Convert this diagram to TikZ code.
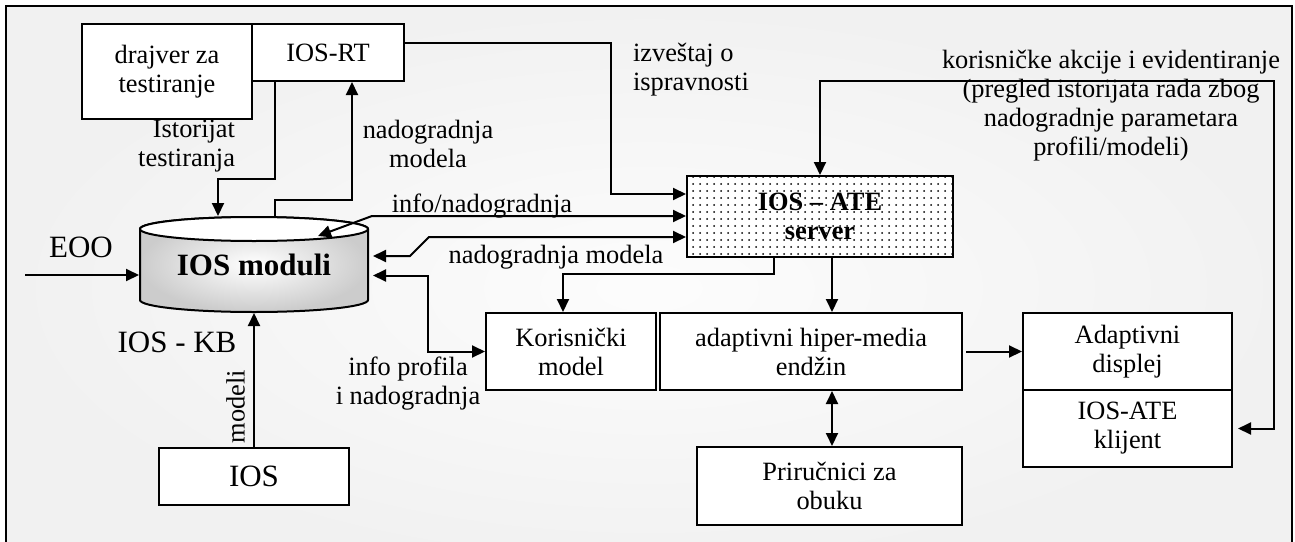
\documentclass[tikz,border=0pt]{standalone}
\usepackage{fontspec}
\setmainfont{Liberation Serif}
\usetikzlibrary{arrows.meta, calc, patterns.meta, positioning}

\tikzset{
  txt/.style={font=\fontsize{13.2}{14.5}\selectfont},
  bigtxt/.style={font=\fontsize{15.5}{18}\selectfont},
  box/.style={draw, fill=white, txt, align=center, inner sep=0pt},
  lbl/.style={txt, inner sep=0pt},
  >={Triangle[length=6.5pt,width=6pt]}
}

\begin{document}
\begin{tikzpicture}[x=0.5pt,y=-0.5pt,line width=1pt]
    \useasboundingbox (0,0) rectangle (1295,541);
    \clip (0,0) rectangle (1295,541);
    \shadedraw[line width=1.2pt, inner color=gray!2, outer color=gray!11] (6,6) rectangle (1292,570);

    % baza znanja
    \shadedraw[inner color=white, outer color=gray!40] (140,229) -- (140,300)
      arc[start angle=180, end angle=0, x radius=114, y radius=12] -- (368,229)
      arc[start angle=0, end angle=-180, x radius=114, y radius=12] -- cycle;
    \draw[fill=white] (254,229) ellipse[x radius=114, y radius=12];
    \node[minimum width=114pt, minimum height=47.5pt, inner sep=0pt,
      font=\fontsize{15.5}{18}\selectfont\bfseries] (kb) at (254,264.5) {IOS moduli};

    \node[box, minimum width=85pt, minimum height=47.5pt] (drajver) at (167,71.5) {drajver za\\testiranje};
    \node[box, minimum width=76pt, minimum height=28.5pt] (iosrt) at (328,52.5) {IOS-RT};
    \node[draw, preaction={fill=white}, pattern={Dots[distance=3.5pt,radius=.5pt]}, pattern color=black,
      align=center, inner sep=0pt, minimum width=133pt, minimum height=40.5pt,
      font=\fontsize{13.2}{14.5}\selectfont\bfseries] (server) at (820,216.5) {IOS – ATE\\server};
    \node[box, minimum width=85pt, minimum height=38.5pt] (korisnicki) at (571,351.5) {Korisnički\\model};
    \node[box, minimum width=151pt, minimum height=38.5pt] (engine) at (811,351.5) {adaptivni hiper-media\\endžin};
    \node[box, minimum width=132.5pt, minimum height=39pt] (prirucnici) at (829.5,486) {Priručnici za\\obuku};
    \node[box, minimum width=104.5pt, minimum height=38.5pt] (displej) at (1127.5,351.5) {Adaptivni\\displej};
    \node[box, minimum width=104.5pt, minimum height=38.5pt] (klijent) at (1127.5,428.5) {IOS-ATE\\klijent};
    \node[box, bigtxt, minimum width=95pt, minimum height=28.5pt] (ios) at (254,476.5) {IOS};

    \node[lbl, align=right, anchor=base east] (istorijat) at (236,166) {Istorijat\\testiranja};
    \node[lbl, align=center, anchor=base] (nadogrRT) at (428,167) {nadogradnja\\modela};
    \node[lbl, align=left, anchor=base west] (izvestaj) at (632,90) {izveštaj o\\ispravnosti};
    \node[lbl, align=center, anchor=base] (akcije) at (1111,155)
      {korisničke akcije i evidentiranje\\(pregled istorijata rada zbog\\nadogradnje parametara\\profili/modeli)};
    \node[lbl, anchor=base] (infonad) at (482,212) {info/nadogradnja};
    \node[lbl, anchor=base] (nadmod) at (556,263) {nadogradnja modela};
    \node[lbl, align=center, anchor=base] (infoprof) at (408,404) {info profila\\i nadogradnja};
    \node[bigtxt, inner sep=0pt, anchor=base] (eoolbl) at (81,257) {EOO};
    \node[bigtxt, inner sep=0pt, anchor=base] (kblbl) at (177,352) {IOS - KB};

    \draw[->] ($(iosrt.south)+(-53,0)$) |- ($(kb.north)+(-36,-37)$) -- ($(kb.north)+(-36,0)$);
    \draw[->] ($(kb.north)+(21,0)$) |- ($(iosrt.south)+(24,118)$) -- ($(iosrt.south)+(24,0)$);
    \draw[->] ($(iosrt.east)+(0,-9.5)$) -| ($(server.west)+(-75,-22.5)$) -- ($(server.west)+(0,-22.5)$);
    \draw[<->] ($(kb.north)+(64,20)$) -- ($(kb.north)+(118,0)$) -- (kb.north -| server.west);
    \draw[<->] ($(kb.east)+(4,-8.5)$) -- ++(37,0) -- ++(19,-19) -- ($(server.west)+(0,20.5)$);
    \draw[<->] ($(kb.east)+(4,11)$) -| ($(korisnicki.west)+(-57,0)$) -- (korisnicki.west);
    \coordinate (eoo) at (25,275);
    \draw[->] (eoo) -- (eoo -| kb.west);
    \draw[->] (ios.north) -- node[lbl, pos=.3, sloped, above=4pt] (modeli) {modeli} (kb.south);
    \draw[->] ($(server.south)+(-46,0)$) |- ($(korisnicki.north)+(-8,-38)$) -- ($(korisnicki.north)+(-8,0)$);
    \draw[->] ($(server.south)+(12,0)$) -- ($(engine.north)+(21,0)$);
    \draw[<->] ($(engine.south)+(21,0)$) -- ($(prirucnici.north)+(2.5,0)$);
    \draw[->] ($(engine.east)+(3,0)$) -- (displej.west);
    \draw[<->] (server.north) |- ++(454,-94) |- ($(klijent.east)+(5,0)$);
\end{tikzpicture}
\end{document}
